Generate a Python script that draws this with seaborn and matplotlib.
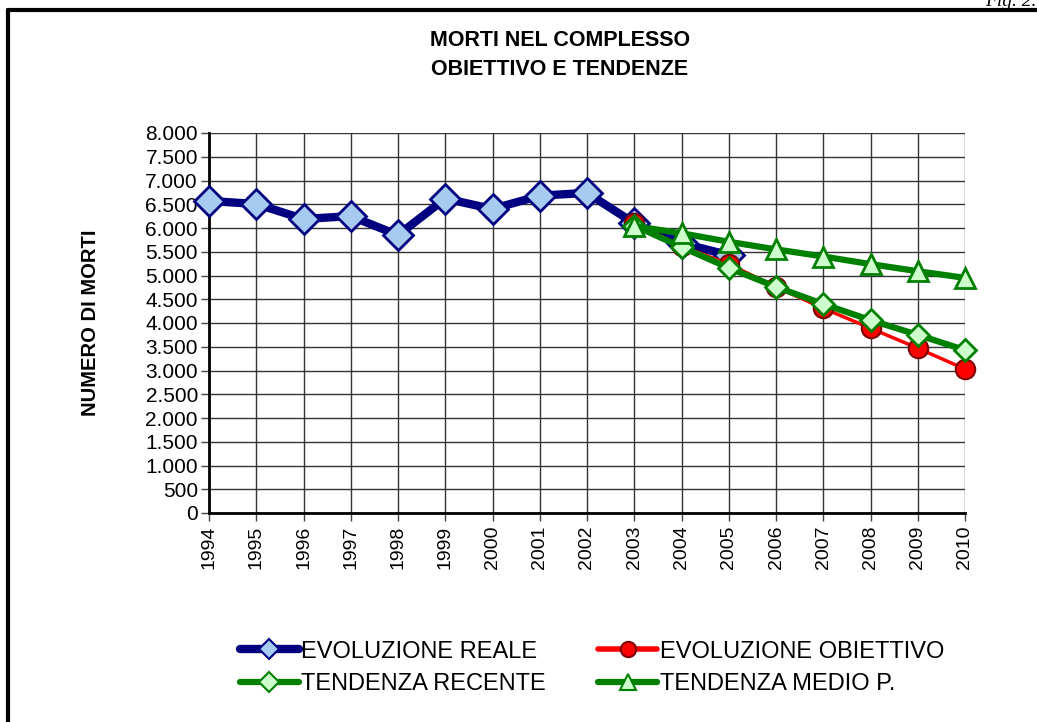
import matplotlib
matplotlib.use("Agg")

import matplotlib.pyplot as plt
from matplotlib.lines import Line2D
from matplotlib.ticker import FuncFormatter
import pandas as pd
import seaborn as sns

# ---------------------------------------------------------------------------
# Data
# ---------------------------------------------------------------------------

YEARS_REAL = [1994, 1995, 1996, 1997, 1998, 1999, 2000, 2001, 2002, 2003, 2004, 2005]
EVOL_REALE = [6570, 6505, 6190, 6250, 5850, 6620, 6400, 6680, 6740, 6100, 5680, 5430]

YEARS_PROJ = [2003, 2004, 2005, 2006, 2007, 2008, 2009, 2010]
EVOL_OBIETTIVO = [6100, 5620, 5240, 4760, 4310, 3890, 3470, 3030]
TEND_RECENTE = [6050, 5600, 5160, 4760, 4400, 4060, 3750, 3430]
TEND_MEDIO = [6040, 5890, 5710, 5550, 5400, 5240, 5090, 4950]

TITLE = "MORTI NEL COMPLESSO\nOBIETTIVO E TENDENZE"
Y_LABEL = "NUMERO DI MORTI"

NAVY = "#000080"
RED = "#ff0000"
GREEN = "#008000"


def _thousands(v, _pos):
    return f"{int(v):,}".replace(",", ".")


sns.set_theme(style="white")
plt.rcParams["font.family"] = ["Liberation Sans", "DejaVu Sans"]
plt.rcParams["text.color"] = "black"
plt.rcParams["axes.labelcolor"] = "black"

fig = plt.figure(figsize=(10.37, 7.22), dpi=100)
ax = fig.add_axes([209 / 1037, 1 - 513 / 722, (965 - 209) / 1037, (513 - 133) / 722])

reale = pd.DataFrame({"Anno": YEARS_REAL, "Morti": EVOL_REALE})
proj = pd.DataFrame({
    "Anno": YEARS_PROJ,
    "Obiettivo": EVOL_OBIETTIVO,
    "Recente": TEND_RECENTE,
    "Medio": TEND_MEDIO,
})

common = dict(ax=ax, clip_on=False, zorder=3)
sns.lineplot(data=reale, x="Anno", y="Morti", color=NAVY, linewidth=6,
             marker="D", markersize=15, markerfacecolor="#a6caf0",
             markeredgecolor=NAVY, markeredgewidth=2, **common)
sns.lineplot(data=proj, x="Anno", y="Obiettivo", color=RED, linewidth=2.5,
             marker="o", markersize=14, markerfacecolor=RED,
             markeredgecolor="#800000", markeredgewidth=1.5, **common)
sns.lineplot(data=proj, x="Anno", y="Recente", color=GREEN, linewidth=4.5,
             marker="D", markersize=11, markerfacecolor="#ccffcc",
             markeredgecolor=GREEN, markeredgewidth=2, **common)
sns.lineplot(data=proj, x="Anno", y="Medio", color=GREEN, linewidth=4.5,
             marker="^", markersize=14, markerfacecolor="#ccffcc",
             markeredgecolor=GREEN, markeredgewidth=2, **common)

# axes styling
ax.set_xlim(1994, 2010)
ax.set_ylim(0, 8000)
ax.set_xticks(list(range(1994, 2011)))
ax.set_yticks(list(range(0, 8001, 500)))
ax.yaxis.set_major_formatter(FuncFormatter(_thousands))
ax.tick_params(axis="x", labelrotation=90, labelsize=14, direction="out",
               length=6, width=1, color="#444444", labelcolor="black",
               bottom=True, pad=3)
ax.tick_params(axis="y", labelsize=15, direction="out", length=6, width=1,
               color="#444444", labelcolor="black", left=True, pad=2)
ax.grid(True, color="#333333", linewidth=1)
ax.set_axisbelow(True)
for side in ["top", "right"]:
    ax.spines[side].set_visible(False)
for side in ["left", "bottom"]:
    ax.spines[side].set_color("black")
    ax.spines[side].set_linewidth(2)
ax.set_xlabel("")
ax.set_ylabel(Y_LABEL, fontsize=14.5, fontweight="bold")
ax.yaxis.set_label_coords(-109 / 756, 0.5)

fig.text(560 / 1037, 1 - 55 / 722, TITLE, ha="center", va="center",
         fontsize=15.5, fontweight="bold", linespacing=1.5)

# legend (column-major order -> rows: reale/obiettivo, recente/medio)
handles = [
    Line2D([], [], color=NAVY, linewidth=6, marker="D", markersize=10,
           markerfacecolor="#a6caf0", markeredgecolor=NAVY, markeredgewidth=1.5),
    Line2D([], [], color=GREEN, linewidth=4.5, marker="D", markersize=10,
           markerfacecolor="#ccffcc", markeredgecolor=GREEN, markeredgewidth=1.5),
    Line2D([], [], color=RED, linewidth=4, marker="o", markersize=11,
           markerfacecolor=RED, markeredgecolor="#800000", markeredgewidth=1.5),
    Line2D([], [], color=GREEN, linewidth=4.5, marker="^", markersize=12,
           markerfacecolor="#ccffcc", markeredgecolor=GREEN, markeredgewidth=1.5),
]
labels = ["EVOLUZIONE REALE", "TENDENZA RECENTE", "EVOLUZIONE OBIETTIVO", "TENDENZA MEDIO P."]
fig.legend(handles, labels, ncol=2, loc="center",
           bbox_to_anchor=(592 / 1037, 1 - 668 / 722), frameon=False,
           fontsize=17, handlelength=2.5, handletextpad=0.12,
           columnspacing=2.2, labelspacing=0.45)

# page frame and cropped figure tag
fig.add_artist(Line2D([8 / 1037, 8 / 1037], [0, 1 - 10 / 722], transform=fig.transFigure,
                      color="black", linewidth=3))
fig.add_artist(Line2D([8 / 1037, 1], [1 - 10 / 722, 1 - 10 / 722], transform=fig.transFigure,
                      color="black", linewidth=3))
fig.text(1036 / 1037, 1 - 2 / 722, "Fig. 2.", ha="right", va="center",
         fontsize=14, style="italic", family=["Liberation Serif", "DejaVu Serif"])

fig.savefig("out.png", dpi=100, facecolor="white")
plt.close("all")
